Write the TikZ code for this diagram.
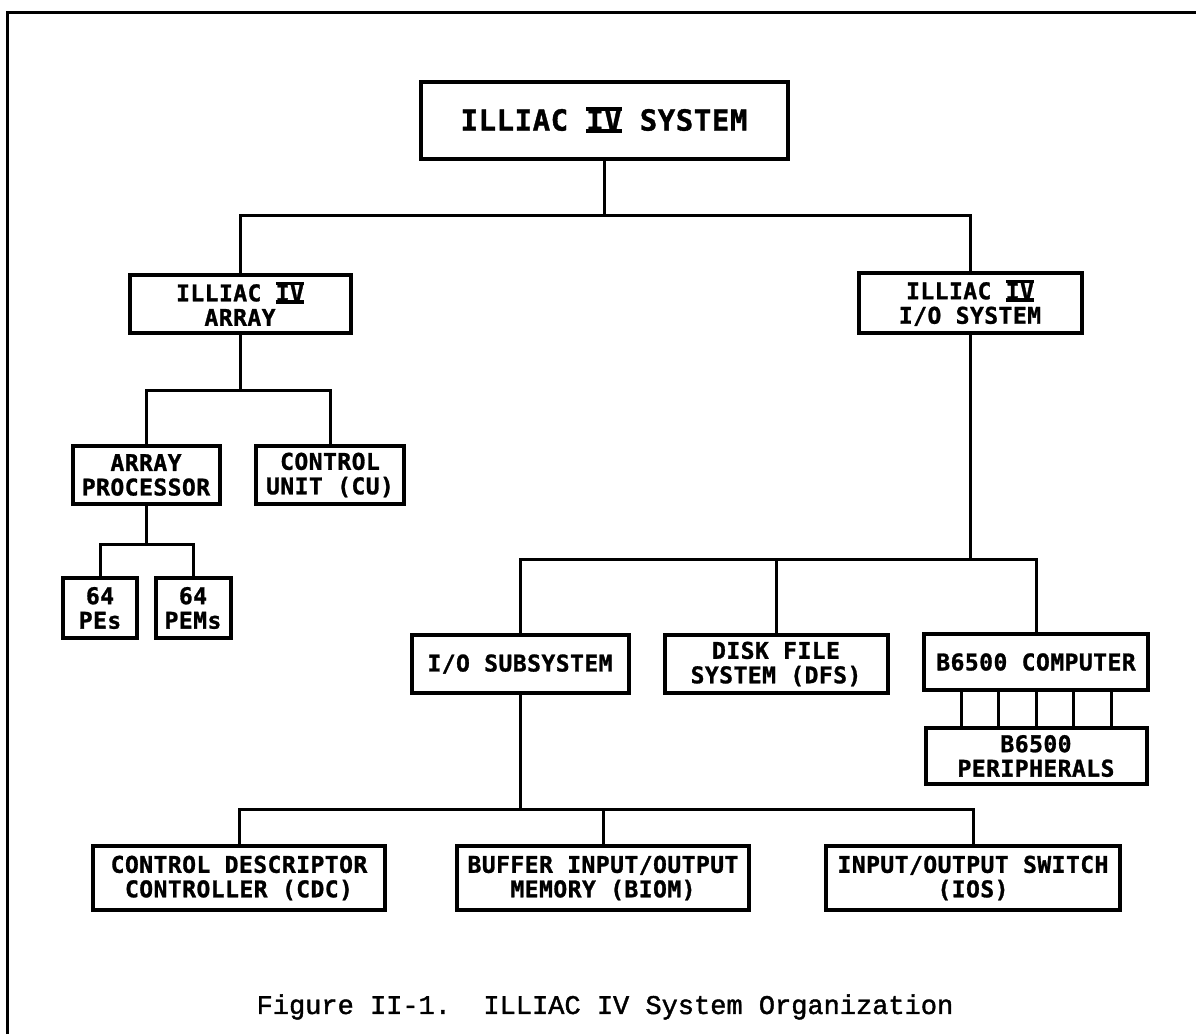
\documentclass[tikz,border=0pt]{standalone}
\usepackage{fontspec}
\newfontfamily\letterfont{DejaVu Sans Mono}[LetterSpace=2, FakeBold=1.2]
\newfontfamily\typerfont{Liberation Mono}[FakeBold=1.5]
\newsavebox{\ivbox}
\newcommand{\romiv}{\sbox{\ivbox}{IV}\rlap{\rule[-0.1em]{\wd\ivbox}{0.14em}}\rlap{\rule[\dimexpr\ht\ivbox-0.04em\relax]{\wd\ivbox}{0.14em}}\usebox{\ivbox}}
\begin{document}
\begin{tikzpicture}[x=1pt, y=-1pt, line width=3pt,
    every node/.style={font=\letterfont\bfseries\fontsize{23}{24.5}\selectfont, align=center},
    unit/.style={draw, rectangle, line width=4pt, inner sep=0pt, minimum height=58pt}]
    \useasboundingbox (0,0) rectangle (1196,1034);
    % frame
    \draw (7,1034) -- (7,12) -- (1196,12);
    \node[unit, minimum width=367pt, minimum height=77pt, font=\letterfont\bfseries\fontsize{29}{30}\selectfont] (sys) at (604,120) {ILLIAC \romiv{} SYSTEM};
    \node[unit, minimum width=221pt] (arr) at (240,304) {ILLIAC \romiv\\ARRAY};
    \node[unit, minimum width=223pt, minimum height=60pt] (iosys) at (970,303) {ILLIAC \romiv\\I/O SYSTEM};
    \node[unit, minimum width=147pt] (ap) at (146,475) {ARRAY\\PROCESSOR};
    \node[unit, minimum width=148pt] (cu) at (330,475) {CONTROL\\UNIT (CU)};
    \node[unit, minimum width=74pt, minimum height=60pt] (pe) at (100,608) {64\\PEs};
    \node[unit, minimum width=75pt, minimum height=60pt] (pem) at (193,608) {64\\PEMs};
    \node[unit, minimum width=217pt] (iosub) at (520,664) {I/O SUBSYSTEM};
    \node[unit, minimum width=223pt] (dfs) at (776,664) {DISK FILE\\SYSTEM (DFS)};
    \node[unit, minimum width=224pt, minimum height=56pt] (b65) at (1036,662) {B6500 COMPUTER};
    \node[unit, minimum width=221pt, minimum height=56pt] (per) at (1036,756) {B6500\\PERIPHERALS};
    \node[unit, minimum width=292pt, minimum height=64pt] (cdc) at (239,878) {CONTROL DESCRIPTOR\\CONTROLLER (CDC)};
    \node[unit, minimum width=292pt, minimum height=64pt] (biom) at (603,878) {BUFFER INPUT/OUTPUT\\MEMORY (BIOM)};
    \node[unit, minimum width=294pt, minimum height=64pt] (ios) at (973,878) {INPUT/OUTPUT SWITCH\\(IOS)};
    \node[font=\typerfont\fontsize{27}{30}\selectfont] (cap) at (605,1007) {Figure II-1.\ \ ILLIAC IV System Organization};
    % connectors
    \draw (sys.south) -- ++(0,55) coordinate (bus1);
    \draw (arr.north) |- (bus1) -| (iosys.north);
    \draw (arr.south) -- ++(0,55) coordinate (bus2);
    \draw (ap.north) |- (bus2) -| (cu.north);
    \draw (ap.south) -- ++(0,38) coordinate (bus3);
    \draw (pe.north) |- (bus3) -| (pem.north);
    \coordinate (bus4) at (970,559);
    \draw (iosys.south) -- (bus4);
    \draw (iosub.north) |- (bus4) -| (b65.north);
    \draw (dfs.north) -- (dfs.north |- bus4);
    \foreach \dx in {-75,-37.5,0,37.5,75}
        \draw ([xshift=\dx pt]b65.south) -- ([xshift=\dx pt]per.north);
    \draw (iosub.south) -- ++(0,114) coordinate (bus5);
    \draw (cdc.north) |- (bus5) -| (ios.north);
    \draw (biom.north) -- (biom.north |- bus5);
\end{tikzpicture}
\end{document}
